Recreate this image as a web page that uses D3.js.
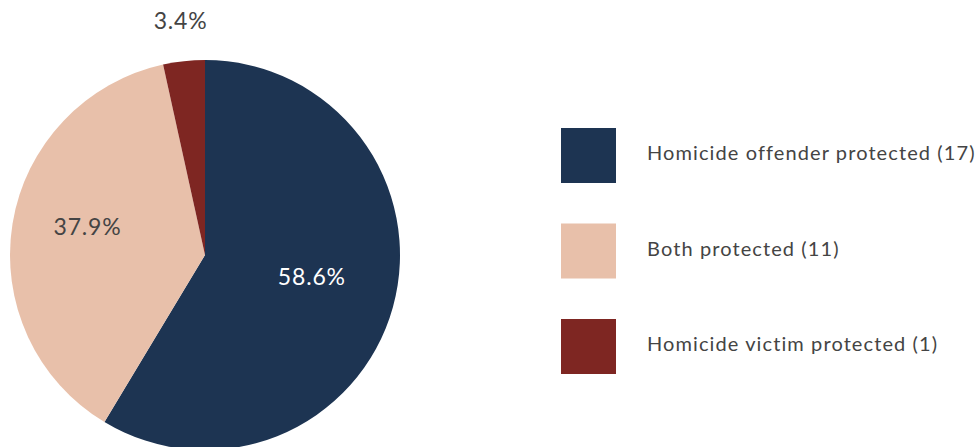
<!DOCTYPE html>
<html><head><meta charset="utf-8">
<script src="https://cdn.jsdelivr.net/npm/d3@7"></script>
<style>html,body{margin:0;padding:0;background:#fff;}svg{display:block;}</style>
</head><body>
<svg id="c" width="979" height="447"></svg>
<script>
const categories = ["Homicide offender protected", "Both protected", "Homicide victim protected"];
const values = [17, 11, 1];
const labels = ["58.6%", "37.9%", "3.4%"];
const colors = ["#1d3452", "#e8c0aa", "#7e2622"];
const labelColors = ["#ffffff", "#444444", "#444444"];

const svg = d3.select("#c");
const cx = 205, cy = 255, r = 195;
const font = "Lato, 'Open Sans', sans-serif";

const pie = d3.pie().sort(null).value(d => d)(values);
const arc = d3.arc().innerRadius(0).outerRadius(r);
const g = svg.append("g").attr("transform", `translate(${cx},${cy})`);
g.selectAll("path").data(pie).join("path")
  .attr("d", arc).attr("fill", (d, i) => colors[i]);

const inner = d3.arc().innerRadius(115).outerRadius(115);
const outer = d3.arc().innerRadius(226).outerRadius(226);
g.selectAll("text").data(pie).join("text")
  .attr("transform", (d, i) => {
    const small = (d.endAngle - d.startAngle) < 0.4;
    const p = small ? outer.centroid(d) : inner.centroid(d);
    return `translate(${p[0] - (small ? 0 : 4)},${p[1] - 1})`;
  })
  .attr("text-anchor", "middle")
  .attr("font-family", font).attr("font-size", 23)
  .attr("letter-spacing", 0.8)
  .attr("fill", (d, i) => labelColors[i])
  .text((d, i) => labels[i]);

const legend = svg.append("g");
const ly = d3.scalePoint().domain(categories).range([128, 319]);
categories.forEach((c, i) => {
  legend.append("rect").attr("x", 561).attr("y", ly(c)).attr("width", 55).attr("height", 55).attr("fill", colors[i]);
  legend.append("text").attr("x", 647).attr("y", ly(c) + 32)
    .attr("font-family", font).attr("font-size", 20).attr("fill", "#444")
    .attr("letter-spacing", 1.1)
    .text(`${c} (${values[i]})`);
});
</script>
</body></html>
